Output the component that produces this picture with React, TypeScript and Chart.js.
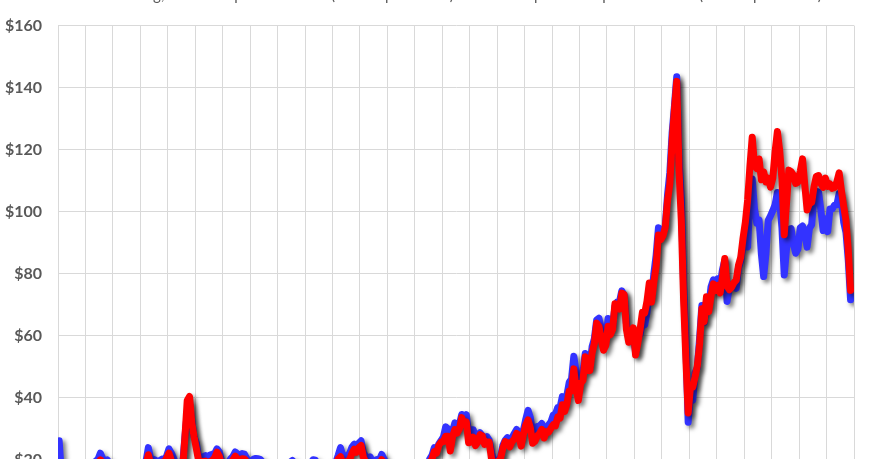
import React, { useEffect, useRef } from 'react';
import { Chart, registerables } from 'chart.js';

Chart.register(...registerables);

const TITLE_TEXT =
  'Cushing, OK WTI Spot Price FOB (Dollars per Barrel) versus Europe Brent Spot Price FOB (Dollars per Barrel)';

const X_MIN_YEAR = 1986;
const X_MAX_YEAR = 2015;
const Y_TICK_VALUES = [0, 20, 40, 60, 80, 100, 120, 140, 160];

// WTI monthly (USD per barrel), Jan 1986 .. Nov 2014
const WTI_START_YEAR = 1986;
const WTI_START_MONTH = 0;
const wtiMonthly: number[] = [
  26.0, 15.46, 12.61, 12.84, 15.38, 13.43, 11.59, 15.1, 14.87, 14.9, 15.22, 16.11,
  18.65, 17.75, 18.3, 18.68, 19.44, 20.07, 22.0, 20.31, 19.53, 19.86, 18.85, 17.28,
  17.13, 16.8, 16.2, 17.86, 17.42, 16.53, 15.5, 15.52, 14.54, 13.77, 14.14, 16.38,
  18.02, 17.94, 19.48, 23.8, 20.12, 20.05, 19.78, 18.58, 19.59, 20.1, 19.86, 21.1,
  23.4, 22.11, 20.39, 18.43, 18.2, 16.7, 18.45, 27.3, 35.0, 38.0, 32.3, 27.3,
  25.23, 20.48, 19.9, 20.83, 21.23, 20.19, 21.4, 21.69, 21.89, 23.4, 22.46, 19.5,
  18.79, 19.01, 18.92, 20.23, 20.98, 22.4, 21.78, 21.34, 21.88, 21.69, 20.34, 19.41,
  19.03, 20.09, 20.32, 20.25, 19.95, 19.09, 17.89, 18.01, 17.5, 18.15, 16.61, 14.52,
  15.03, 14.78, 14.68, 16.42, 17.89, 19.06, 19.66, 18.38, 17.45, 17.72, 18.07, 17.16,
  18.04, 18.57, 18.54, 19.9, 19.74, 18.45, 17.33, 18.02, 18.23, 17.43, 17.99, 19.03,
  18.86, 19.09, 21.33, 23.8, 21.17, 20.42, 21.3, 21.9, 23.97, 24.88, 23.71, 25.23,
  26.0, 22.18, 20.97, 19.7, 20.82, 19.26, 19.66, 19.95, 19.8, 21.6, 20.19, 18.33,
  16.72, 16.06, 15.12, 15.35, 14.91, 13.72, 14.17, 13.47, 15.03, 14.46, 13.0, 11.35,
  12.52, 12.01, 14.68, 17.31, 17.72, 17.92, 20.1, 21.28, 23.8, 22.69, 25.0, 26.1,
  27.26, 30.5, 29.84, 25.72, 28.79, 31.82, 29.7, 31.26, 34.5, 33.11, 34.42, 28.44,
  29.59, 29.61, 27.25, 27.49, 28.63, 27.6, 26.43, 27.37, 26.2, 22.17, 19.64, 19.39,
  19.72, 20.72, 24.53, 26.18, 27.04, 25.52, 26.97, 28.39, 29.66, 28.84, 26.35, 29.46,
  32.95, 35.83, 33.51, 28.17, 28.11, 30.66, 30.75, 31.57, 28.31, 30.34, 31.11, 32.13,
  34.31, 34.69, 36.74, 36.75, 40.28, 38.03, 40.78, 44.9, 45.94, 53.28, 48.47, 43.15,
  46.84, 48.15, 54.19, 52.98, 49.83, 56.35, 59.0, 64.99, 65.59, 62.26, 58.32, 59.41,
  65.49, 61.63, 62.69, 69.44, 70.84, 70.95, 74.41, 73.04, 63.8, 58.89, 59.08, 61.96,
  54.51, 59.28, 60.44, 63.98, 63.45, 67.49, 74.12, 72.36, 79.92, 85.8, 94.77, 91.69,
  92.97, 95.39, 105.45, 112.58, 125.4, 134.0, 143.5, 116.67, 104.11, 76.61, 57.31, 32.0,
  41.71, 39.09, 47.94, 49.65, 59.03, 69.64, 64.15, 71.05, 69.41, 75.72, 77.99, 74.47,
  78.33, 76.39, 81.2, 84.29, 71.0, 75.34, 76.32, 76.6, 75.24, 81.89, 84.25, 89.15,
  89.17, 88.58, 104.0, 110.5, 100.9, 96.26, 97.3, 86.33, 79.0, 86.32, 97.16, 98.56,
  100.27, 102.2, 106.16, 103.32, 94.66, 79.5, 87.9, 94.13, 94.51, 89.49, 86.53, 87.86,
  94.76, 95.31, 92.94, 88.5, 94.51, 95.77, 104.67, 106.57, 106.29, 100.54, 93.86, 97.63,
  93.5, 100.82, 100.8, 102.07, 102.18, 105.79, 103.59, 96.54, 93.21, 84.4, 71.5,
];

// Brent monthly (USD per barrel), May 1987 .. Nov 2014
const BRENT_START_YEAR = 1987;
const BRENT_START_MONTH = 4;
const brentMonthly: number[] = [
  18.58, 18.86, 19.86, 18.98, 18.31, 18.76, 18.14, 16.8,
  16.75, 15.73, 14.73, 16.6, 16.31, 15.49, 14.71, 14.94, 13.66, 12.6, 12.96, 15.23,
  16.82, 16.81, 18.44, 21.5, 18.44, 17.54, 17.72, 17.25, 18.12, 19.17, 18.96, 20.44,
  22.0, 19.82, 18.38, 16.61, 16.35, 15.1, 17.17, 27.2, 39.0, 40.3, 31.8, 27.3,
  23.45, 19.5, 19.19, 19.37, 19.45, 18.32, 19.35, 19.66, 20.61, 22.32, 21.04, 18.38,
  18.21, 18.03, 17.42, 18.82, 19.87, 21.03, 20.13, 19.62, 20.24, 20.13, 19.25, 18.24,
  17.42, 18.63, 18.62, 18.62, 18.43, 17.66, 16.61, 16.74, 16.15, 16.85, 15.13, 13.64,
  14.08, 13.81, 13.75, 15.41, 16.2, 16.62, 17.66, 16.7, 15.88, 16.45, 17.24, 15.94,
  16.57, 17.2, 16.91, 18.66, 18.27, 17.18, 16.06, 16.64, 16.87, 16.07, 16.95, 17.91,
  17.89, 18.56, 20.14, 20.85, 18.82, 18.56, 19.33, 19.95, 21.92, 23.35, 22.31, 23.82,
  24.5, 20.71, 19.24, 17.38, 18.96, 17.74, 18.48, 18.6, 18.31, 19.89, 18.9, 17.03,
  15.34, 14.05, 13.21, 13.31, 14.36, 12.3, 12.09, 11.87, 13.31, 12.69, 11.08, 9.64,
  11.09, 10.28, 12.6, 15.2, 15.3, 15.84, 19.07, 20.16, 22.51, 22.08, 24.59, 25.61,
  25.74, 27.49, 27.45, 22.71, 27.43, 29.63, 28.53, 29.85, 33.5, 31.18, 32.1, 25.39,
  25.56, 27.19, 24.46, 25.56, 27.99, 27.54, 24.88, 25.67, 25.59, 20.31, 18.65, 18.69,
  19.42, 20.28, 23.67, 25.76, 25.42, 24.06, 25.8, 26.55, 28.4, 27.55, 24.3, 28.2,
  31.16, 32.76, 30.25, 25.22, 25.82, 27.55, 28.32, 29.69, 26.9, 28.98, 28.8, 29.99,
  31.21, 30.87, 33.74, 33.35, 37.64, 35.5, 37.95, 42.1, 42.09, 49.22, 42.64, 39.04,
  44.51, 45.48, 53.1, 51.88, 48.65, 54.35, 57.52, 63.98, 62.91, 58.54, 55.24, 56.86,
  62.99, 60.21, 62.06, 70.26, 69.78, 68.56, 73.67, 73.23, 61.96, 57.81, 58.76, 62.47,
  53.68, 57.56, 62.05, 67.49, 67.21, 71.05, 76.93, 70.76, 77.17, 82.34, 92.41, 90.93,
  92.18, 94.99, 103.64, 109.07, 122.8, 133.0, 142.0, 113.24, 97.23, 71.58, 52.45, 35.0,
  43.44, 43.32, 46.54, 50.18, 57.3, 68.61, 64.44, 72.51, 67.65, 72.77, 76.66, 74.46,
  76.17, 73.75, 78.83, 84.82, 75.95, 74.76, 75.58, 77.04, 77.84, 82.67, 85.28, 91.45,
  96.52, 103.72, 114.64, 124.0, 114.99, 113.83, 116.97, 110.22, 112.83, 109.55, 110.77, 107.87,
  110.69, 119.33, 125.8, 119.75, 110.34, 92.5, 102.62, 113.36, 112.86, 111.71, 109.06, 109.49,
  112.96, 117.0, 108.47, 100.5, 102.56, 102.92, 107.93, 111.28, 111.6, 109.08, 107.79, 110.76,
  108.12, 108.9, 107.48, 107.76, 109.54, 112.5, 106.77, 101.61, 97.09, 87.43, 74.5,
];

const WTI_COLOR = '#3333FF';
const BRENT_COLOR = '#FF0000';
const GRID_COLOR = '#D9D9D9';
const TEXT_COLOR = '#595959';

function toPoints(startYear: number, startMonth: number, values: number[]) {
  return values.map((v, i) => ({ x: startYear + (startMonth + i + 0.5) / 12, y: v }));
}

const shadowPlugin = {
  id: 'seriesShadow',
  beforeDatasetDraw(chart: any) {
    const c = chart.ctx;
    c.save();
    c.shadowColor = 'rgba(0,0,0,0.5)';
    c.shadowBlur = 4;
    c.shadowOffsetX = 3;
    c.shadowOffsetY = 3;
  },
  afterDatasetDraw(chart: any) {
    chart.ctx.restore();
  },
};

const titlePlugin = {
  id: 'cutTitle',
  afterDraw(chart: any) {
    const c = chart.ctx;
    c.save();
    c.font = '15px Lato';
    c.fillStyle = TEXT_COLOR;
    c.textAlign = 'left';
    c.textBaseline = 'alphabetic';
    c.fillText(TITLE_TEXT, 108, 0);
    c.restore();
  },
};

export default function App() {
  const canvasRef = useRef<HTMLCanvasElement | null>(null);

  useEffect(() => {
    if (!canvasRef.current) return;
    const chart = new Chart(canvasRef.current, {
      type: 'line',
      data: {
        datasets: [
          {
            label: 'WTI',
            data: toPoints(WTI_START_YEAR, WTI_START_MONTH, wtiMonthly),
            borderColor: WTI_COLOR,
            backgroundColor: WTI_COLOR,
            borderWidth: 7,
            pointRadius: 0,
            tension: 0,
            borderJoinStyle: 'round',
            borderCapStyle: 'round',
            order: 1,
          },
          {
            label: 'Brent',
            data: toPoints(BRENT_START_YEAR, BRENT_START_MONTH, brentMonthly),
            borderColor: BRENT_COLOR,
            backgroundColor: BRENT_COLOR,
            borderWidth: 7,
            pointRadius: 0,
            tension: 0,
            borderJoinStyle: 'round',
            borderCapStyle: 'round',
            order: 0,
          },
        ],
      },
      options: {
        responsive: false,
        animation: false,
        layout: { padding: { top: 25, right: 20, left: 0, bottom: 0 } },
        plugins: {
          legend: { display: false },
          title: { display: false },
          tooltip: { enabled: false },
        },
        scales: {
          x: {
            type: 'linear',
            min: X_MIN_YEAR,
            max: X_MAX_YEAR,
            ticks: { display: false, stepSize: 1 },
            grid: { color: GRID_COLOR, lineWidth: 1, drawTicks: false },
            border: { display: false },
            afterFit: (s: any) => {
              s.height = 20;
            },
          },
          y: {
            min: Y_TICK_VALUES[0],
            max: Y_TICK_VALUES[Y_TICK_VALUES.length - 1],
            afterBuildTicks: (s: any) => {
              s.ticks = Y_TICK_VALUES.map((v) => ({ value: v }));
            },
            ticks: {
              padding: 16,
              color: TEXT_COLOR,
              font: { family: 'Lato', weight: 'bold', size: 16 },
              callback: (v: any) => '$' + v,
            },
            grid: { color: GRID_COLOR, lineWidth: 1, drawTicks: false },
            border: { color: GRID_COLOR },
            afterFit: (s: any) => {
              s.width = 58;
            },
          },
        },
      },
      plugins: [shadowPlugin, titlePlugin],
    });
    return () => chart.destroy();
  }, []);

  return (
    <div style={{ position: 'fixed', left: 0, top: 0, width: 874, height: 459, overflow: 'hidden', background: '#fff' }}>
      <div style={{ position: 'absolute', left: 0, top: 0, width: 874, height: 547 }}>
        <canvas ref={canvasRef} width={874} height={547} style={{ display: 'block', width: 874, height: 547 }} />
      </div>
    </div>
  );
}
